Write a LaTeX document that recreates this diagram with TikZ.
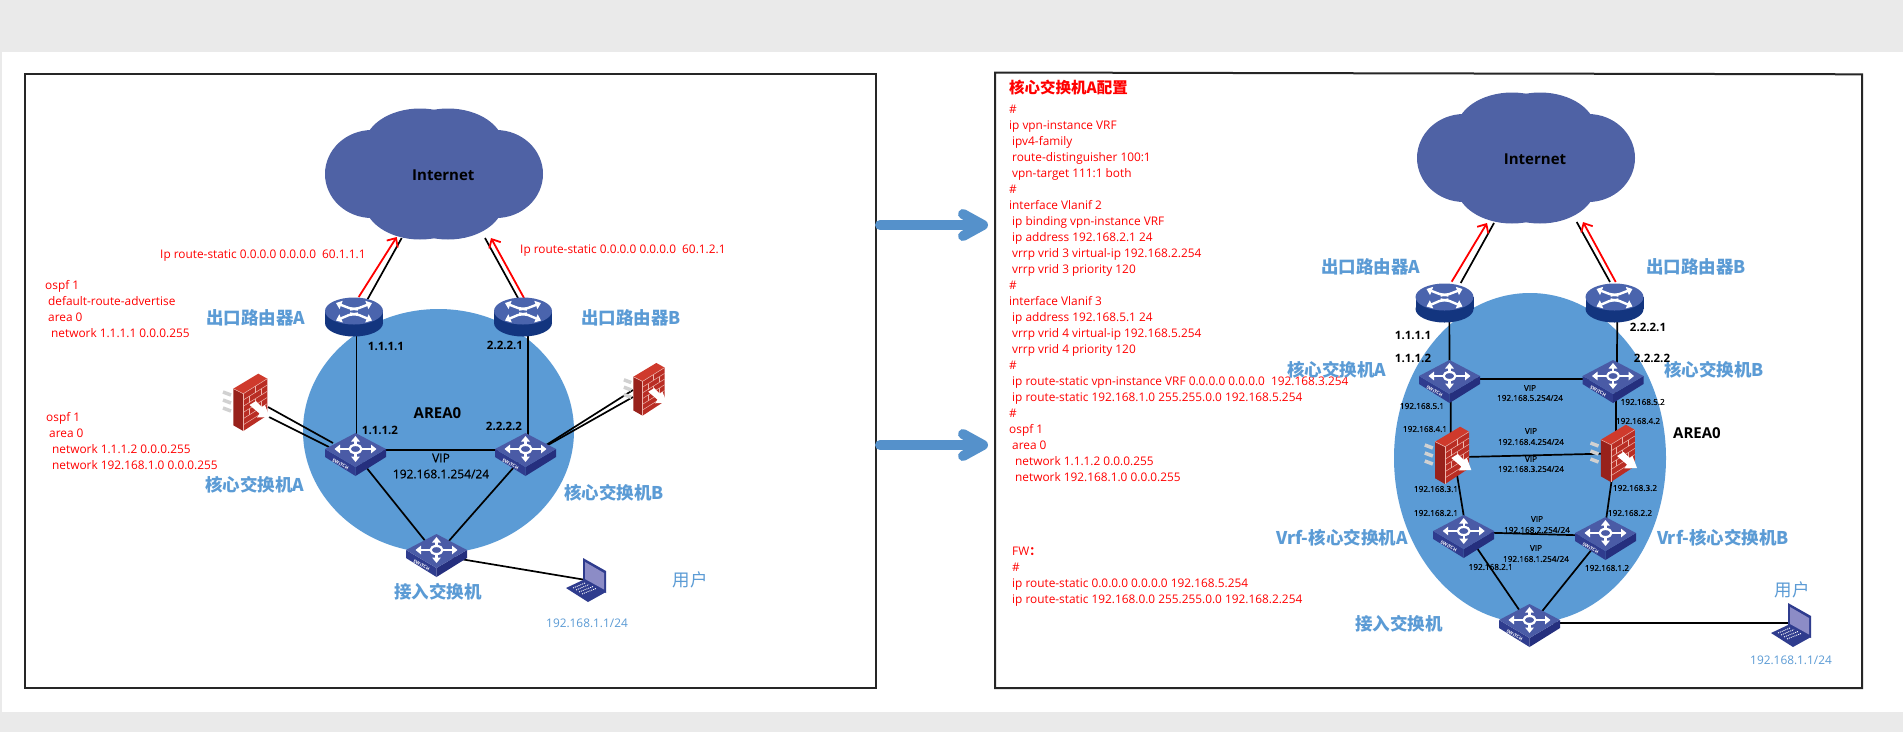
\documentclass[tikz,border=0pt]{standalone}
\usepackage{fontspec}
\setmainfont{Open Sans}
\newfontfamily\cjk{Noto Sans CJK SC}
\newfontfamily\semi{Open Sans}[FakeBold=0.35]
\usetikzlibrary{arrows.meta}
\definecolor{pageGray}{HTML}{EAEAEA}
\definecolor{areaBlue}{HTML}{5B9BD5}
\definecolor{cloudBlue}{HTML}{4F62A5}
\definecolor{flowBlue}{HTML}{5591CB}
\definecolor{devTop}{HTML}{4A5BA6}
\definecolor{devLeft}{HTML}{2F3C8E}
\definecolor{devRight}{HTML}{252F7E}
\definecolor{rtrTop}{HTML}{4A64AD}
\definecolor{rtrSide}{HTML}{13357F}
\definecolor{fwTop}{HTML}{CF3A2C}
\definecolor{fwFront}{HTML}{B92D24}
\definecolor{fwSide}{HTML}{98211B}
\definecolor{brick}{HTML}{EDB5AC}
\tikzset{
  icon/.style={inner sep=0pt, minimum size=1pt},
  panelline/.style={draw=black!85, line width=2pt},
  link/.style={draw=black, line width=1.7pt},
  redlink/.style={draw=red, line width=1.8pt, -{Straight Barb[length=7pt,width=13pt]}},
  flowarrow/.style={draw=flowBlue, line width=10pt, line cap=round, -{Straight Barb[round,length=20pt,width=22pt]}},
  cfg/.style={text=red, inner sep=0pt, align=left, font=\fontsize{11.85}{16}\selectfont},
  bluelabel/.style={text=areaBlue, inner sep=0pt, font=\cjk\bfseries\fontsize{17.5}{20}\selectfont},
  blueip/.style={text=areaBlue, inner sep=0pt, font=\fontsize{11.85}{14}\selectfont},
  ipbig/.style={inner sep=0pt, font=\bfseries\fontsize{11.5}{14}\selectfont},
  ipmid/.style={inner sep=0pt, font=\semi\fontsize{12}{14}\selectfont},
  ipsmall/.style={inner sep=0pt, font=\semi\fontsize{8.2}{10}\selectfont},
  netname/.style={inner sep=0pt, font=\bfseries\fontsize{15}{18}\selectfont},
  areaname/.style={inner sep=0pt, font=\bfseries\fontsize{15}{18}\selectfont},
  whitetip/.style={draw=white, line width=2.4pt, -{Triangle[length=5.5pt,width=8.5pt]}},
  brickline/.style={draw=brick, line width=.5pt},
  pics/cloudshape/.style={code={
    \fill[cloudBlue] (-62,0) ellipse (47 and 44);
    \fill[cloudBlue] (62,0) ellipse (47 and 44);
    \fill[cloudBlue] (-14,-27) ellipse (56 and 38.5);
    \fill[cloudBlue] (14,-27) ellipse (56 and 38.5);
    \fill[cloudBlue] (-14,27) ellipse (56 and 38.5);
    \fill[cloudBlue] (14,27) ellipse (56 and 38.5);
    \fill[cloudBlue] (-60,-35) rectangle (60,35);
  }},
  pics/routershape/.style={code={
    \fill[rtrSide] (0,6) ellipse (29 and 13.5);
    \fill[rtrSide] (-29,-6) rectangle (29,6);
    \fill[rtrTop] (0,-6) ellipse (29 and 13.5);
    \draw[whitetip] (4,-7.5) -- (-5,-9) -- (-18,-14);
    \draw[whitetip] (-4,-7.5) -- (5,-9) -- (18,-14);
    \draw[whitetip] (4,-3.5) -- (-5,-2) -- (-18,3.5);
    \draw[whitetip] (-4,-3.5) -- (5,-2) -- (18,3.5);
  }},
  pics/switchshape/.style={code={
    \fill[devLeft] (-30.5,-5) -- (0,13) -- (0,22) -- (-30.5,3) -- cycle;
    \fill[devRight] (30.5,-5) -- (0,13) -- (0,22) -- (30.5,3) -- cycle;
    \fill[devTop] (-30.5,-5) -- (0,-21) -- (30.5,-5) -- (0,13) -- cycle;
    \node[text=white, inner sep=0pt, rotate=-28, font=\bfseries\fontsize{4.6}{5}\selectfont] (swtag) at (-15,10.4) {SWITCH};
    \draw[whitetip] (-6,-5) -- (-21,-5);
    \draw[whitetip] (6,-5) -- (21,-5);
    \draw[whitetip] (0,-9) -- (0,-18);
    \draw[whitetip] (0,-1) -- (0,8);
    \draw[draw=white, line width=2.2pt] (0,-5) ellipse (6 and 4);
  }},
  pics/firewallshape/.style={code={
    \draw[draw=black!18, line width=3.5pt] (-27,-10) -- (-19,-7);
    \draw[draw=black!18, line width=3.5pt] (-27,-2) -- (-19,1);
    \draw[draw=black!18, line width=3.5pt] (-27,6) -- (-19,9);
    \fill[fwSide] (-16.7,-13.3) -- (-6.7,-8.3) -- (-6.7,29) -- (-16.7,23.3) -- cycle;
    \fill[fwTop] (-16.7,-13.3) -- (8.3,-28.3) -- (17.3,-23.3) -- (-6.7,-8.3) -- cycle;
    \fill[fwFront] (-6.7,-8.3) -- (17.3,-23.3) -- (17.3,13.3) -- (-6.7,29) -- cycle;
    \draw[brickline] (-16.7,-13.3) -- (-6.7,-8.3) -- (17.3,-23.3);
    \draw[brickline] (-6.7,-8.3) -- (-6.7,29);
    \draw[brickline] (-6.7,-2) -- (17.3,-17);
    \draw[brickline] (-6.7,4.2) -- (17.3,-10.8);
    \draw[brickline] (-6.7,10.4) -- (17.3,-4.6);
    \draw[brickline] (-6.7,16.6) -- (17.3,1.6);
    \draw[brickline] (-6.7,22.8) -- (17.3,7.8);
    \draw[brickline] (5,-15.6) -- (5,-9.4);
    \draw[brickline] (-1,-5.6) -- (-1,.6);
    \draw[brickline] (11,-13.5) -- (11,-7.2);
    \draw[brickline] (5,-3.2) -- (5,3);
    \draw[brickline] (-1,6.8) -- (-1,13);
    \draw[brickline] (11,-1) -- (11,5.2);
    \fill[white] (-.5,3) -- (6,-1) -- (12,5) -- (15,3) -- (19.5,15) -- (7,15.5) -- (9.5,11.5) -- cycle;
  }},
  pics/laptopshape/.style={code={
    \fill[devLeft] (-3,-22) -- (20,-9) -- (20,13) -- (-3,1) -- cycle;
    \fill[black!50!blue!45!white] (-1,-18) -- (18,-7) -- (18,9.5) -- (-1,-1) -- cycle;
    \fill[devLeft] (-20,8) -- (-3,0) -- (20,12) -- (2,22) -- cycle;
    \draw[draw=white, line width=.9pt, dash pattern=on 1pt off 1pt] (-13,8) -- (-1,3);
    \draw[draw=white, line width=.9pt, dash pattern=on 1pt off 1pt] (-10,10) -- (3,4.5);
    \draw[draw=white, line width=.9pt, dash pattern=on 1pt off 1pt] (-7,12) -- (7,6.5);
    \draw[draw=white, line width=.9pt, dash pattern=on 1pt off 1pt] (-4,14) -- (10,8.5);
  }},
}
\begin{document}
\begin{tikzpicture}[x=1pt, y=-1pt]
\useasboundingbox (0,0) rectangle (1903,732);
% Page
\fill[pageGray] (0,0) rectangle (1903,732);
\fill[white] (2,52) rectangle (1903,712);
% Panels
\draw[panelline] (25,74) rectangle (876,688);
\draw[panelline] (995,72.5) -- (1862,74.3) -- (1862,688) -- (995,688) -- cycle;
% Area circles
\fill[areaBlue] (438.5,431) ellipse (135.5 and 122);
\fill[areaBlue] (1530,458) ellipse (136 and 165);
% Devices of the left panel
\node[icon] (cloudL) at (434,174) {};
\node[icon] (rtrA) at (354,317) {};
\node[icon] (rtrB) at (523,317) {};
\node[icon] (coreA) at (355.5,454) {};
\node[icon] (coreB) at (525.5,454) {};
\node[icon] (accessL) at (436.5,555) {};
\node[icon] (fwA) at (250,402) {};
\node[icon] (fwB) at (648.7,389) {};
\node[icon] (pcL) at (586,580) {};
% Devices of the right panel
\node[icon] (cloudR) at (1526,158) {};
\node[icon] (rtrRA) at (1444.5,303) {};
\node[icon] (rtrRB) at (1614.5,303) {};
\node[icon] (coreRA) at (1449.5,381) {};
\node[icon] (coreRB) at (1613,381) {};
\node[icon] (fwRA) at (1451.8,455) {};
\node[icon] (fwRB) at (1617.5,453) {};
\node[icon] (vrfA) at (1463.7,536) {};
\node[icon] (vrfB) at (1605.5,538) {};
\node[icon] (accessR) at (1529.5,625) {};
\node[icon] (pcR) at (1791,625) {};
% Flow arrows
\coordinate (flowAs) at (880,225);
\coordinate (flowAe) at (988,225);
\coordinate (flowBs) at (880,445);
\coordinate (flowBe) at (988,445);
\draw[flowarrow] (flowAs) -- (flowAe);
\draw[flowarrow] (flowBs) -- (flowBe);
% Links of the left panel
\draw[link] ([shift={(13.7,-18)}]rtrA.center) -- ([shift={(-32.3,64)}]cloudL.center);
\draw[redlink] ([shift={(4.7,-20)}]rtrA.center) -- ([shift={(-37.3,63)}]cloudL.center);
\draw[link] ([shift={(-5,-19)}]rtrB.center) -- ([shift={(51,64)}]cloudL.center);
\draw[redlink] ([shift={(1,-19)}]rtrB.center) -- ([shift={(57,64)}]cloudL.center);
\draw[link] ([xshift=2.5]rtrA.center) -- ([xshift=1]coreA.center);
\draw[link] ([xshift=4.7]rtrB.center) -- ([xshift=2.2]coreB.center);
\draw[link] ([yshift=4]coreA.center) -- ([yshift=4]coreB.center);
\draw[link] (coreA) -- (accessL);
\draw[link] (coreB) -- (accessL);
\draw[link] (accessL) -- (pcL);
\draw[link] ([shift={(18,5)}]fwA.center) -- ([shift={(-22.5,-11)}]coreA.center);
\draw[link] ([shift={(19,15)}]fwA.center) -- ([shift={(-26.5,-7)}]coreA.center);
\draw[link] ([shift={(17.5,-7)}]coreB.center) -- ([shift={(-15.7,1)}]fwB.center);
\draw[link] ([shift={(22.5,-9)}]coreB.center) -- ([shift={(-15.7,8)}]fwB.center);
% Links of the right panel
\draw[link] ([shift={(16.2,-20)}]rtrRA.center) -- ([shift={(-32,65)}]cloudR.center);
\draw[redlink] ([shift={(7.2,-21.3)}]rtrRA.center) -- ([shift={(-39,65)}]cloudR.center);
\draw[link] ([shift={(-4.5,-21)}]rtrRB.center) -- ([shift={(50.7,64)}]cloudR.center);
\draw[redlink] ([shift={(1.2,-21)}]rtrRB.center) -- ([shift={(57,64)}]cloudR.center);
\draw[link] ([xshift=4.8]rtrRA.center) -- (coreRA);
\draw[link] ([xshift=3]rtrRB.center) -- ([xshift=3.7]coreRB.center);
\draw[link] ([yshift=2.3]coreRA.center) -- ([yshift=2.3]coreRB.center);
\draw[link] ([xshift=1.2]coreRA.center) -- ([xshift=-1]fwRA.center);
\draw[link] ([xshift=2.7]coreRB.center) -- ([xshift=-1.8]fwRB.center);
\draw[link] ([yshift=-2.3]fwRA.center) -- ([yshift=-.3]fwRB.center);
\draw[link] ([xshift=2]fwRA.center) -- ([xshift=3.3]vrfA.center);
\draw[link] ([xshift=-2]fwRB.center) -- ([xshift=-2]vrfB.center);
\draw[link] ([yshift=4]vrfA.center) -- ([yshift=2]vrfB.center);
\draw[link] ([xshift=5]vrfA.center) -- (accessR);
\draw[link] ([xshift=-4.5]vrfB.center) -- ([xshift=1.5]accessR.center);
\draw[link] ([yshift=2]accessR.center) -- ([yshift=2]pcR.center);
% Device pictures
\pic at (cloudL) {cloudshape};
\pic at (rtrA) {routershape};
\pic at (rtrB) {routershape};
\pic at (coreA) {switchshape};
\pic at (coreB) {switchshape};
\pic at (accessL) {switchshape};
\pic at (fwA) {firewallshape};
\pic[scale=.92] at (fwB) {firewallshape};
\pic at (pcL) {laptopshape};
\pic at (cloudR) {cloudshape};
\pic at (rtrRA) {routershape};
\pic at (rtrRB) {routershape};
\pic at (coreRA) {switchshape};
\pic at (coreRB) {switchshape};
\pic at (fwRA) {firewallshape};
\pic at (fwRB) {firewallshape};
\pic at (vrfA) {switchshape};
\pic at (vrfB) {switchshape};
\pic at (accessR) {switchshape};
\pic at (pcR) {laptopshape};
% Left panel texts
\node[netname] (inetL) at (443.3,175) {Internet};
\node[cfg, anchor=west] (staticA) at (160,256) {Ip route-static 0.0.0.0 0.0.0.0\ \ 60.1.1.1};
\node[cfg, anchor=west] (staticB) at (520,251) {Ip route-static 0.0.0.0 0.0.0.0\ \ 60.1.2.1};
\node[cfg, anchor=north west] (ospfRtr) at (45,280) {ospf 1\\\hspace{3pt}default-route-advertise\\\hspace{3pt}area 0\\\hspace{6pt}network 1.1.1.1 0.0.0.255};
\node[cfg, anchor=north west] (ospfCore) at (46,412) {ospf 1\\\hspace{3pt}area 0\\\hspace{6pt}network 1.1.1.2 0.0.0.255\\\hspace{6pt}network 192.168.1.0 0.0.0.255};
\node[bluelabel] (nameRA) at (256,318) {出口路由器A};
\node[bluelabel] (nameRB) at (631,318) {出口路由器B};
\node[bluelabel] (nameCA) at (255,485) {核心交换机A};
\node[bluelabel] (nameCB) at (614,493) {核心交换机B};
\node[bluelabel] (nameAc) at (438,592) {接入交换机};
\node[bluelabel, font=\cjk\fontsize{17.5}{20}\selectfont] (nameUs) at (690,580) {用户};
\node[blueip] (ipUs) at (587,623) {192.168.1.1/24};
\node[ipbig] (ip11) at (386,346) {1.1.1.1};
\node[ipbig] (ip21) at (505,345) {2.2.2.1};
\node[ipbig] (ip12) at (380,430) {1.1.1.2};
\node[ipbig] (ip22) at (504,426) {2.2.2.2};
\node[areaname] (areaL) at (437.5,413) {AREA0};
\node[ipmid] (vipL) at (441,458) {VIP};
\node[ipmid] (vipAddrL) at (441,474) {192.168.1.254/24};
% Right panel texts
\node[netname] (inetR) at (1535,159) {Internet};
\node[text=red, inner sep=0pt, anchor=west, font=\cjk\bfseries\fontsize{15.5}{18}\selectfont] (cfgTitle) at (1009,88) {核心交换机A配置};
\node[cfg, anchor=north west] (cfgCore) at (1009,105) {\#\\
ip vpn-instance VRF\\
\hspace{3pt}ipv4-family\\
\hspace{3pt}route-distinguisher 100:1\\
\hspace{3pt}vpn-target 111:1 both\\
\#\\
interface Vlanif 2\\
\hspace{3pt}ip binding vpn-instance VRF\\
\hspace{3pt}ip address 192.168.2.1 24\\
\hspace{3pt}vrrp vrid 3 virtual-ip 192.168.2.254\\
\hspace{3pt}vrrp vrid 3 priority 120\\
\#\\
interface Vlanif 3\\
\hspace{3pt}ip address 192.168.5.1 24\\
\hspace{3pt}vrrp vrid 4 virtual-ip 192.168.5.254\\
\hspace{3pt}vrrp vrid 4 priority 120\\
\#\\
\hspace{3pt}ip route-static vpn-instance VRF 0.0.0.0 0.0.0.0\ \ 192.168.3.254\\
\hspace{3pt}ip route-static 192.168.1.0 255.255.0.0 192.168.5.254\\
\#\\
ospf 1\\
\hspace{3pt}area 0\\
\hspace{6pt}network 1.1.1.2 0.0.0.255\\
\hspace{6pt}network 192.168.1.0 0.0.0.255};
\node[cfg, anchor=north west] (cfgFw) at (1012,547) {FW{\cjk\bfseries：}\\\#\\ip route-static 0.0.0.0 0.0.0.0 192.168.5.254\\ip route-static 192.168.0.0 255.255.0.0 192.168.2.254};
\node[bluelabel] (nameRRA) at (1371,267) {出口路由器A};
\node[bluelabel] (nameRRB) at (1696,267) {出口路由器B};
\node[bluelabel] (nameCRA) at (1337,370) {核心交换机A};
\node[bluelabel] (nameCRB) at (1714,370) {核心交换机B};
\node[bluelabel] (nameVA) at (1342,538) {Vrf-核心交换机A};
\node[bluelabel] (nameVB) at (1723,538) {Vrf-核心交换机B};
\node[bluelabel] (nameAcR) at (1399,624) {接入交换机};
\node[bluelabel, font=\cjk\fontsize{17.5}{20}\selectfont] (nameUsR) at (1792,590) {用户};
\node[blueip] (ipUsR) at (1791,660) {192.168.1.1/24};
\node[ipbig] (ipR11) at (1413,335) {1.1.1.1};
\node[ipbig] (ipR12) at (1413,358) {1.1.1.2};
\node[ipbig] (ipR21) at (1648,327) {2.2.2.1};
\node[ipbig] (ipR22) at (1652,358) {2.2.2.2};
\node[areaname] (areaR) at (1697,433) {AREA0};
\node[ipsmall] (ip51) at (1422,406) {192.168.5.1};
\node[ipsmall] (ip52) at (1642.7,402) {192.168.5.2};
\node[ipsmall] (ip41) at (1425,429) {192.168.4.1};
\node[ipsmall] (ip42) at (1638,421) {192.168.4.2};
\node[ipsmall] (ip31) at (1436,489) {192.168.3.1};
\node[ipsmall] (ip32) at (1635,488) {192.168.3.2};
\node[ipsmall] (ip2a) at (1436,513) {192.168.2.1};
\node[ipsmall] (ip2b) at (1630,513) {192.168.2.2};
\node[ipsmall] (ip2c) at (1490.7,567) {192.168.2.1};
\node[ipsmall] (ip1b) at (1607,568) {192.168.1.2};
\node[ipsmall] (vip5) at (1530,388) {VIP};
\node[ipsmall] (vipAddr5) at (1530,398) {192.168.5.254/24};
\node[ipsmall] (vip4) at (1531,431) {VIP};
\node[ipsmall] (vipAddr4) at (1531,442) {192.168.4.254/24};
\node[ipsmall] (vip3) at (1531,459) {VIP};
\node[ipsmall] (vipAddr3) at (1531,469) {192.168.3.254/24};
\node[ipsmall] (vip2) at (1537,519) {VIP};
\node[ipsmall] (vipAddr2) at (1537,530) {192.168.2.254/24};
\node[ipsmall] (vip1) at (1536,548) {VIP};
\node[ipsmall] (vipAddr1) at (1536,559) {192.168.1.254/24};
\end{tikzpicture}
\end{document}
